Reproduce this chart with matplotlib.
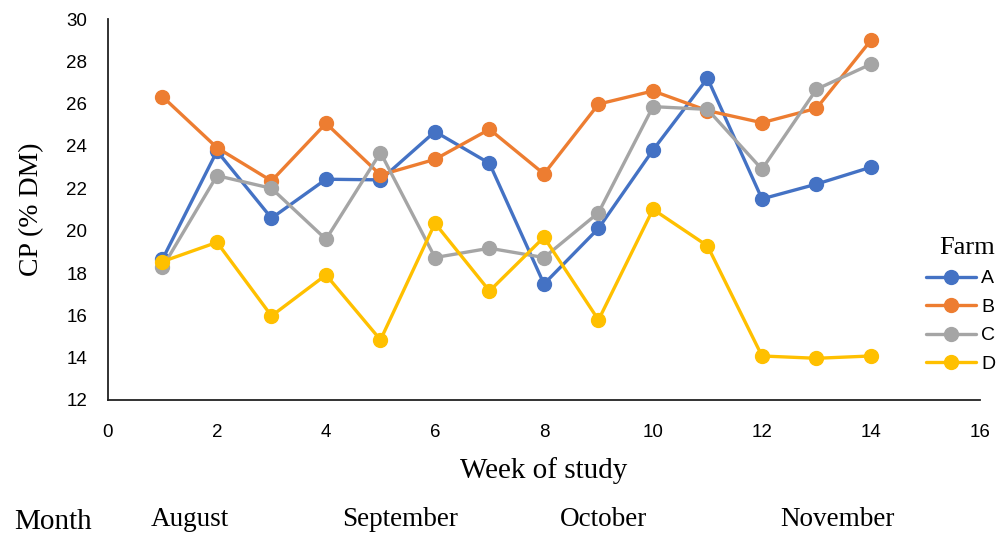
"""Crude protein by farm over the study weeks."""

import matplotlib.pyplot as plt

weeks = list(range(1, 15))
farm_a = [18.65, 23.76, 20.59, 22.43, 22.4, 24.68, 23.18, 17.48, 20.11, 23.81, 27.2, 21.5, 22.2, 23.0]
farm_b = [26.33, 23.92, 22.35, 25.07, 22.63, 23.37, 24.79, 22.68, 25.98, 26.6, 25.67, 25.1, 25.78, 29.0]
farm_c = [18.27, 22.6, 22.0, 19.59, 23.69, 18.73, 19.17, 18.73, 20.85, 25.86, 25.73, 22.9, 26.68, 27.87]
farm_d = [18.54, 19.45, 15.97, 17.91, 14.84, 20.35, 17.15, 19.69, 15.78, 21.01, 19.28, 14.08, 13.97, 14.08]

farm_names = ["A", "B", "C", "D"]
farm_colors = ["#4472C4", "#ED7D31", "#A5A5A5", "#FFC000"]

months = ["August", "September", "October", "November"]
month_x = [190, 400, 604, 837]  # pixel centres along the bottom row

SERIF = ["Liberation Serif", "DejaVu Serif"]
NARROW = ["Liberation Sans Narrow", "Liberation Sans", "DejaVu Sans"]


def main():
    W, H = 1003, 533
    fig = plt.figure(figsize=(W / 100, H / 100), dpi=100)
    ax = fig.add_axes([108 / W, 1 - 400 / H, (980 - 108) / W, (400 - 19) / H])

    for name, vals, col in zip(farm_names, [farm_a, farm_b, farm_c, farm_d], farm_colors):
        ax.plot(weeks, vals, color=col, linewidth=2.4, marker="o", markersize=10,
                label=name, solid_capstyle="round")

    ax.set_xlim(0, 16)
    ax.set_ylim(12, 30)
    ax.set_xticks(range(0, 17, 2))
    ax.set_yticks(range(12, 31, 2))
    ax.tick_params(length=0, labelsize=13.5)
    ax.tick_params(axis="x", pad=17)
    ax.tick_params(axis="y", pad=15)
    for lbl in ax.get_xticklabels() + ax.get_yticklabels():
        lbl.set_family(NARROW)

    for side in ("top", "right"):
        ax.spines[side].set_visible(False)
    for side in ("left", "bottom"):
        ax.spines[side].set_color("#222222")
        ax.spines[side].set_linewidth(1.3)

    ax.set_xlabel("Week of study", family=SERIF, fontsize=21, labelpad=12)
    ax.set_ylabel("CP (% DM)", family=SERIF, fontsize=20, labelpad=16)

    leg = ax.legend(loc="upper left", bbox_to_anchor=(916 / W, 1 - 227 / H),
                    bbox_transform=fig.transFigure, frameon=False,
                    title="Farm", prop={"family": NARROW, "size": 14},
                    handlelength=2.6, handletextpad=0.25, labelspacing=0.56,
                    borderpad=0, alignment="right")
    leg.get_title().set_family(SERIF)
    leg.get_title().set_fontsize(19)
    leg._legend_box.sep = 8

    fig.text(14 / W, 1 - 522 / H, "Month", family=SERIF, fontsize=21, va="center")
    for m, x in zip(months, month_x):
        fig.text(x / W, 1 - 520 / H, m, family=SERIF, fontsize=19.5, ha="center", va="center")

    fig.savefig("out.png", dpi=100)


if __name__ == "__main__":
    main()
